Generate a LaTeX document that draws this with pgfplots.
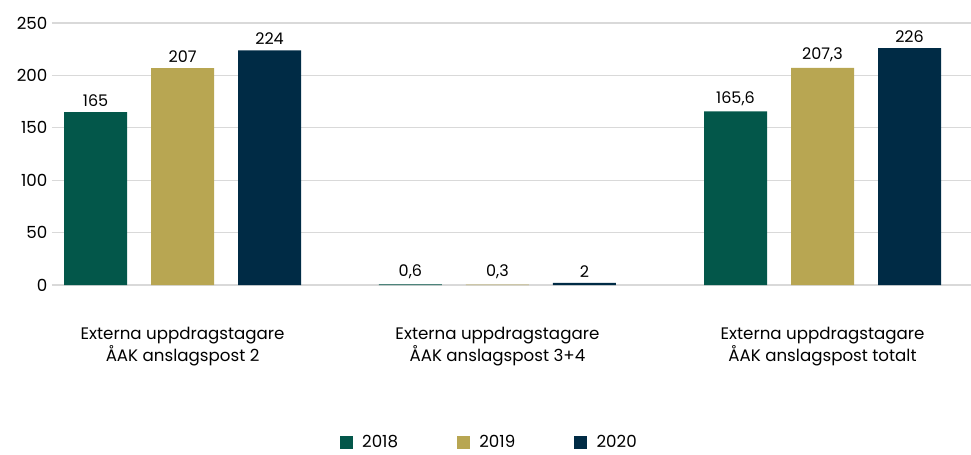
\documentclass[border=0pt]{standalone}
\usepackage{pgfplots}
\pgfplotsset{compat=1.18}
\usepackage{fontspec}
\setmainfont{Poppins}
\definecolor{c18}{HTML}{03574A}
\definecolor{c19}{HTML}{B8A652}
\definecolor{c20}{HTML}{002B45}
\definecolor{gridc}{HTML}{D9D9D9}
\begin{document}
\begin{tikzpicture}
\useasboundingbox (-39pt,-126.75pt) rectangle (689.25pt,213.75pt);
\begin{axis}[
  at={(0,0)}, anchor=south west,
  scale only axis,
  width=689.25pt, height=196.5pt,
  ybar=18pt, bar width=47.25pt,
  xmin=-0.408, xmax=2.464,
  ymin=0, ymax=250,
  ytick={0,50,...,250},
  xtick={0,0.984,2},
  xticklabels={{Externa uppdragstagare\\ÅAK anslagspost 2},{Externa uppdragstagare\\ÅAK anslagspost 3+4},{Externa uppdragstagare\\ÅAK anslagspost totalt}},
  xticklabel style={align=center, yshift=-28pt, font=\fontsize{12.5pt}{16.5pt}\selectfont},
  yticklabel style={font=\fontsize{12.5pt}{14pt}\selectfont},
  /pgf/number format/assume math mode=true,
  axis line style={draw=none},
  major tick length=0pt,
  ymajorgrids, grid style={gridc, line width=1pt},
  clip=false,
  nodes near coords,
  nodes near coords style={font=\fontsize{12pt}{14pt}\selectfont, /pgf/number format/use comma, /pgf/number format/assume math mode=true, inner sep=2pt, yshift=2pt},
  legend columns=3,
  legend style={draw=none, at={(0.476,-0.60)}, anchor=center, inner sep=1pt, font=\fontsize{12.5pt}{14pt}\selectfont, /tikz/every even column/.append style={column sep=42pt}},
  legend image code/.code={\fill[#1] (0pt,-4.9pt) rectangle (9.75pt,4.9pt); \path (15pt,0pt);},
]
\addplot[fill=c18, draw=none] coordinates {(0,165) (0.984,0.6) (2,165.6)};
\addplot[fill=c19, draw=none] coordinates {(0,207) (0.984,0.3) (2,207.3)};
\addplot[fill=c20, draw=none] coordinates {(0,224) (0.984,2) (2,226)};
\legend{2018,2019,2020}
\end{axis}
\end{tikzpicture}
\end{document}
